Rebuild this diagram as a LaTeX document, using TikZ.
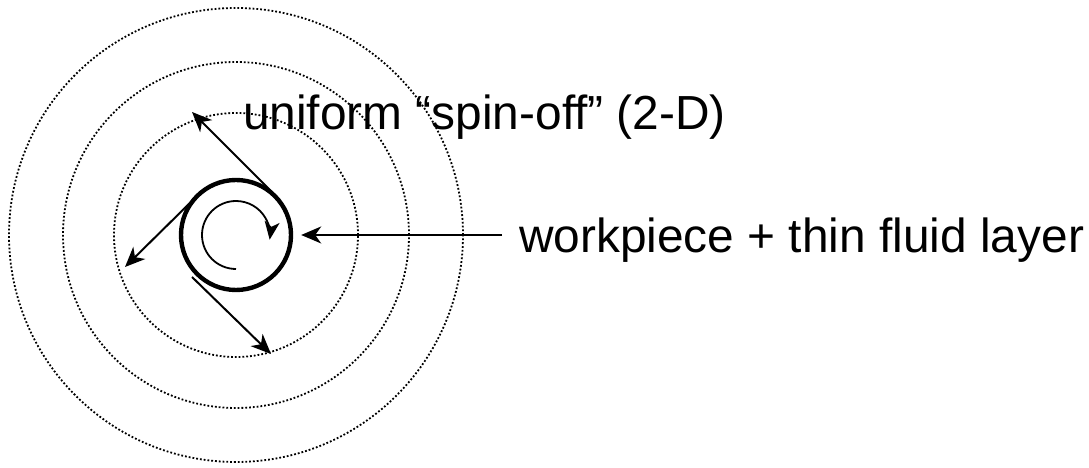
\documentclass[tikz,border=0pt]{standalone}
\usepackage{fontspec}
\setmainfont{Liberation Sans}
\usetikzlibrary{arrows.meta,positioning,calc}
\begin{document}
\begin{tikzpicture}[x=1bp,y=1bp,>={Stealth[length=20bp,width=17bp,inset=6bp]},
 ring/.style={draw,line width=1.8bp,dash pattern=on 1.8bp off 2bp},
 spin/.style={->,line width=2bp},
 lbl/.style={font=\fontsize{48}{56}\selectfont,inner sep=0pt,anchor=base west}]
\useasboundingbox(0,0)rectangle(1089,468);
\coordinate(c)at(236,233);
\foreach \r in {122,173,227}\draw[ring](c)circle[radius=\r];
\node[draw,circle,line width=4.4bp,minimum size=110bp,inner sep=0pt](wp)at(c){};
\draw[->,line width=1.8bp,>={Stealth[length=18bp,width=15bp,inset=5bp]}]
 ($(c)+(270:34)$) arc[start angle=270,end angle=-8,radius=34];
\coordinate(s1)at(273,275);\coordinate(t1)at(192,356);
\coordinate(s2)at(195,270);\coordinate(t2)at(125,201);
\coordinate(s3)at(192,191);\coordinate(t3)at(271,114);
\draw[spin](s1)--(t1);\draw[spin](s2)--(t2);\draw[spin](s3)--(t3);
\node[lbl](so)at(243,338){uniform “spin-off” (2-D)};
\node[lbl](wpl)at(519,215){workpiece + thin fluid layer};
\coordinate(lt)at(502,233);
\draw[spin,shorten >=8bp](lt)--(wp.east);
\end{tikzpicture}
\end{document}
